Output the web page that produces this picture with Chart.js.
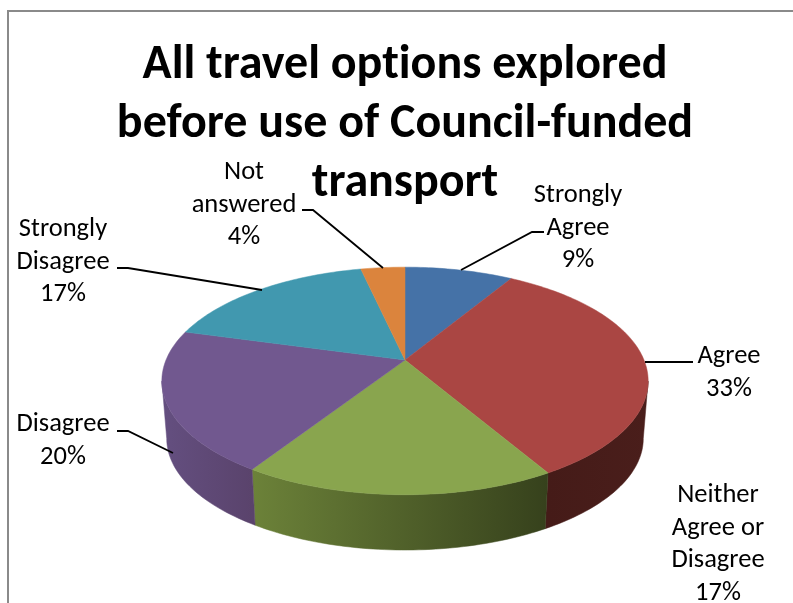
<!DOCTYPE html>
<html>
<head>
<meta charset="utf-8">
<title>All travel options explored</title>
<script src="https://cdn.jsdelivr.net/npm/chart.js@4"></script>
<style>
  html, body { margin: 0; padding: 0; background: #fff; overflow: hidden; }
  #frame { position: absolute; left: 7px; top: 10px; right: -4px; bottom: -4px; border: 2px solid #8a8a8a; }
  #wrap { position: absolute; left: 0; top: 0; width: 793px; height: 603px; }
</style>
</head>
<body>
<div id="frame"></div>
<div id="wrap"><canvas id="chart-pie" width="793" height="603"></canvas></div>
<script>
// data
var titleLines = ['All travel options explored', 'before use of Council-funded', 'transport'];
var categories = ['Strongly Agree', 'Agree', 'Neither Agree or Disagree', 'Disagree', 'Strongly Disagree', 'Not answered'];
var values     = [8.6, 33, 17.49, 20.2, 17.2, 3.5];

// how each category label wraps
var labelLines = [
  ['Strongly', 'Agree'],
  ['Agree'],
  ['Neither', 'Agree or', 'Disagree'],
  ['Disagree'],
  ['Strongly', 'Disagree'],
  ['Not', 'answered']
];

// styles
var topColors  = ['#4572a7', '#aa4643', '#89a54e', '#71588f', '#4198af', '#db843d'];
var wallColors = [
  ['#3a5f8c', '#3a5f8c'],
  ['#451b18', '#4a1e1b'],
  ['#6c8239', '#36411c'],
  ['#644f80', '#5a436c'],
  ['#36798e', '#36798e'],
  ['#b56c30', '#b56c30']
];

// label placement: centre x, first baseline y
var labelX = [578, 729, 718, 63, 63, 244];
var labelY = [202, 363, 502, 431, 236, 179];
var lineGap = 32.5;
var leaders = [
  [[544, 232], [532, 232], [461, 270]],
  [[693, 362], [645, 362]],
  [],
  [[117, 431], [128, 431], [173, 453]],
  [[117, 268], [128, 268], [262, 290]],
  [[302, 210], [313, 210], [383, 268]]
];

// perspective of the pie plane
var tiltY    = 0.46;   // vertical squash
var persp    = 0.184;  // front edge is nearer than back edge
var depth    = 58;     // wall height
var shrink   = 0.98;   // bottom rim slightly smaller

function project(arc, angle, bottom) {
  var s = bottom ? shrink : 1;
  var w = 1 - persp * Math.sin(angle);
  return {
    x: arc.x + s * arc.outerRadius * Math.cos(angle) / w,
    y: arc.y + (bottom ? depth : 0) + s * arc.outerRadius * tiltY * Math.sin(angle) / w
  };
}

function rimTo(ctx, arc, from, to, bottom) {
  var steps = Math.max(2, Math.ceil(Math.abs(to - from) / 0.02));
  for (var i = 0; i <= steps; i++) {
    var p = project(arc, from + (to - from) * i / steps, bottom);
    ctx.lineTo(p.x, p.y);
  }
}

var pie3d = {
  id: 'pie3d',
  beforeDraw: function(chart) {
    // no "ti" ligatures, the original font does not join them
    chart.ctx.textRendering = 'optimizeSpeed';
  },
  beforeDatasetDraw: function(chart) {
    var ctx  = chart.ctx;
    var arcs = chart.getDatasetMeta(0).data;
    var edge = Math.asin(persp);

    // side wall, front half only
    arcs.forEach(function(arc, i) {
      var from = Math.max(arc.startAngle, edge);
      var to   = Math.min(arc.endAngle, Math.PI - edge);
      if (to <= from) return;
      var g = ctx.createLinearGradient(project(arc, to, false).x, 0, project(arc, from, false).x, 0);
      g.addColorStop(0, wallColors[i][0]);
      g.addColorStop(1, wallColors[i][1]);
      ctx.beginPath();
      rimTo(ctx, arc, from, to, false);
      rimTo(ctx, arc, to, from, true);
      ctx.closePath();
      ctx.fillStyle = g;
      ctx.strokeStyle = g;
      ctx.lineWidth = 0.5;
      ctx.fill();
      ctx.stroke();
    });

    // top face
    arcs.forEach(function(arc, i) {
      ctx.beginPath();
      ctx.moveTo(arc.x, arc.y);
      rimTo(ctx, arc, arc.startAngle, arc.endAngle, false);
      ctx.closePath();
      ctx.fillStyle = topColors[i];
      ctx.strokeStyle = topColors[i];
      ctx.lineWidth = 0.5;
      ctx.fill();
      ctx.stroke();
    });
    return false;
  },
  afterDatasetsDraw: function(chart) {
    var ctx = chart.ctx;
    ctx.save();
    ctx.strokeStyle = '#000';
    ctx.lineWidth = 1.8;
    leaders.forEach(function(pts) {
      if (!pts.length) return;
      ctx.beginPath();
      pts.forEach(function(p, i) {
        if (i === 0) ctx.moveTo(p[0], p[1]); else ctx.lineTo(p[0], p[1]);
      });
      ctx.stroke();
    });
    ctx.fillStyle = '#000';
    ctx.font = '26.5px Carlito, Lato, sans-serif';
    ctx.textAlign = 'center';
    ctx.textBaseline = 'alphabetic';
    categories.forEach(function(name, i) {
      labelLines[i].concat(Math.round(values[i]) + '%').forEach(function(line, n) {
        ctx.fillText(line, labelX[i], labelY[i] + n * lineGap);
      });
    });
    ctx.restore();
  }
};

new Chart(document.getElementById('chart-pie'), {
  type: 'pie',
  data: {
    labels: categories,
    datasets: [{ data: values, backgroundColor: topColors, borderWidth: 0 }]
  },
  options: {
    responsive: false,
    animation: false,
    radius: 239,
    layout: { padding: { left: 17, right: 0, top: 36, bottom: 96 } },
    plugins: {
      legend: { display: false },
      tooltip: { enabled: false },
      title: {
        display: true,
        fullSize: false,
        text: titleLines,
        color: '#000',
        padding: 0,
        font: { family: 'Carlito, Lato, sans-serif', size: 48, weight: 'bold', lineHeight: 59 / 48 }
      }
    }
  },
  plugins: [pie3d]
});
</script>
</body>
</html>
